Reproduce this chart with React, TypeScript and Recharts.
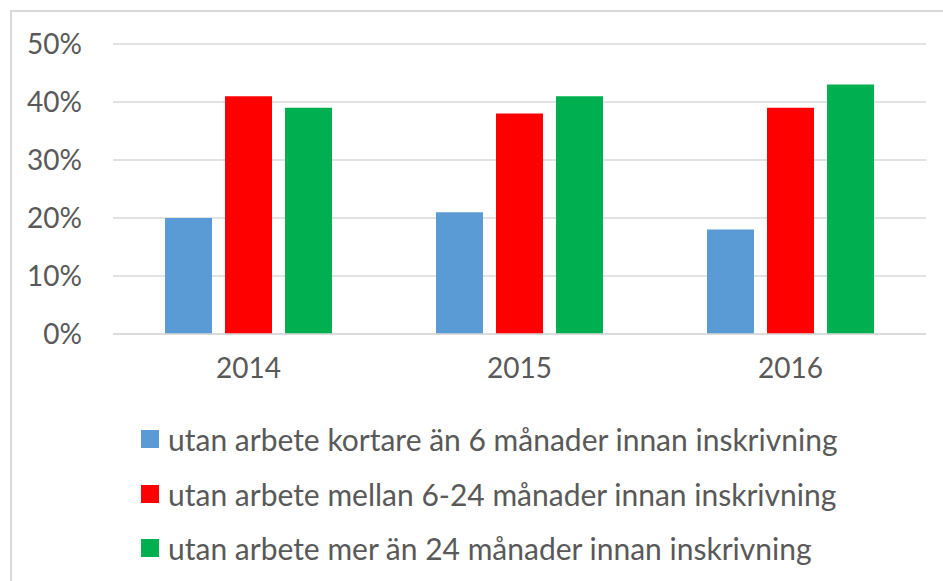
import { Bar, BarChart, CartesianGrid, Legend, XAxis, YAxis } from 'recharts';

const years = ['2014', '2015', '2016'];
const kortare = [20, 21, 18];
const mellan = [41, 38, 39];
const mer = [39, 41, 43];
const yTicks = [0, 10, 20, 30, 40, 50];

const SERIES = [
  { key: 'kortare', name: 'utan arbete kortare än 6 månader innan inskrivning', color: '#5B9BD5' },
  { key: 'mellan', name: 'utan arbete mellan 6-24 månader innan inskrivning', color: '#FF0000' },
  { key: 'mer', name: 'utan arbete mer än 24 månader innan inskrivning', color: '#00B050' },
];

const data = years.map((year, i) => ({
  year,
  kortare: kortare[i],
  mellan: mellan[i],
  mer: mer[i],
}));

const FONT = 'Lato, "Open Sans", sans-serif';
const TEXT = '#595959';

function LegendList() {
  return (
    <div style={{ fontFamily: FONT, fontSize: 30, color: TEXT }}>
      {SERIES.map((s) => (
        <div key={s.key} style={{ display: 'flex', alignItems: 'center', height: 54.5 }}>
          <span style={{ width: 18, height: 18, background: s.color, marginRight: 9, display: 'inline-block' }} />
          <span>{s.name}</span>
        </div>
      ))}
    </div>
  );
}

export default function App() {
  return (
    <div style={{ position: 'fixed', top: 0, left: 0, width: 943, height: 581, background: '#fff', overflow: 'hidden' }}>
      <div style={{ position: 'absolute', left: 10, top: 10, width: 960, height: 620, border: '2px solid #D9D9D9' }} />
      <BarChart
        width={943}
        height={581}
        data={data}
        margin={{ top: 44, right: 17, bottom: 187, left: 0 }}
        barGap={13}
        barSize={47}
      >
        <CartesianGrid vertical={false} stroke="#D9D9D9" strokeWidth={1.5} />
        <XAxis
          dataKey="year"
          axisLine={{ stroke: '#D9D9D9', strokeWidth: 1.5 }}
          tickLine={false}
          tickMargin={18}
          height={60}
          tick={{ fontFamily: FONT, fontSize: 28, fill: TEXT }}
        />
        <YAxis
          width={113}
          domain={[0, 50]}
          ticks={yTicks}
          axisLine={false}
          tickLine={false}
          tickMargin={25}
          tickFormatter={(v) => `${v}%`}
          tick={{ fontFamily: FONT, fontSize: 28, fill: TEXT }}
        />
        <Legend
          layout="vertical"
          align="center"
          verticalAlign="middle"
          wrapperStyle={{ top: 412, left: 141, width: 'auto' }}
          content={() => <LegendList />}
        />
        {SERIES.map((s) => (
          <Bar key={s.key} dataKey={s.key} name={s.name} fill={s.color} isAnimationActive={false} />
        ))}
      </BarChart>
    </div>
  );
}
